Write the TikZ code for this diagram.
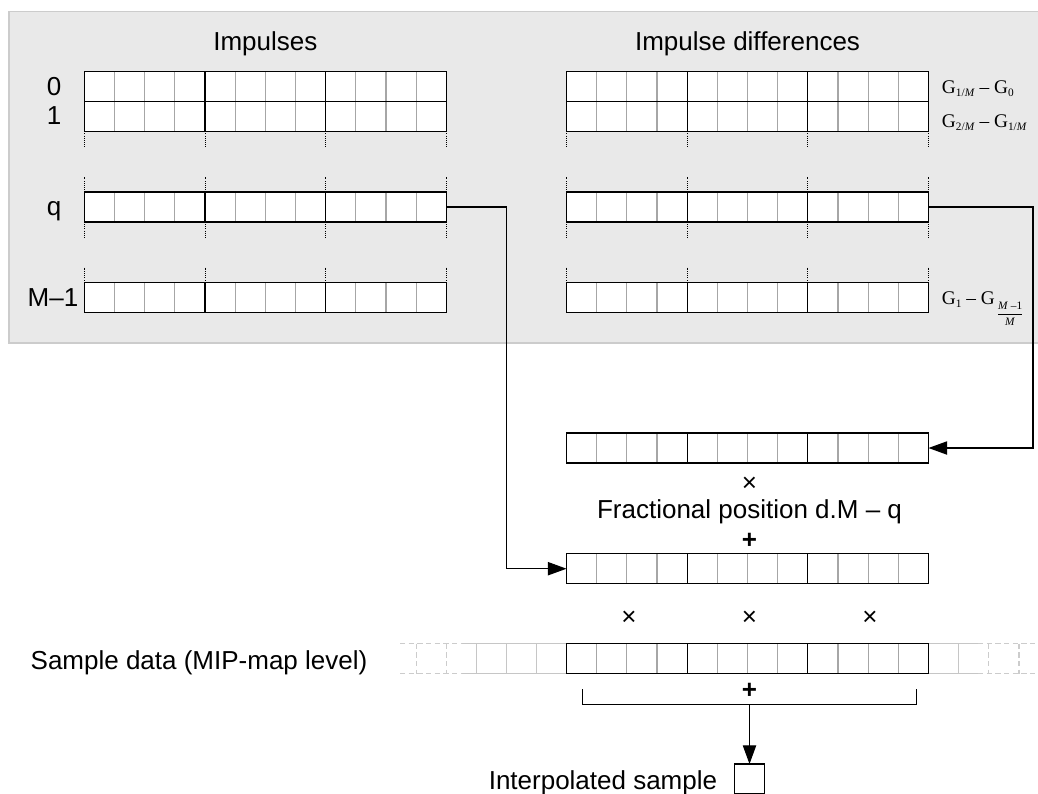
\documentclass[tikz,border=0pt]{standalone}
\usepackage{fontspec}
\setmainfont{Liberation Sans}
\newfontfamily\tnr{Liberation Serif}
\usetikzlibrary{arrows.meta,calc}
\newcommand\subf{\fontsize{8.5}{10}\selectfont}
\newcommand\lowsub[1]{\raisebox{-2.5pt}{\subf #1}}
\newcommand\cellgrid[1]{%
  \foreach \k in {1,2,3,5,6,7,9,10,11}
    \draw[grayline] ($(#1.south west)!\k/12!(#1.south east)$) -- ($(#1.north west)!\k/12!(#1.north east)$);
  \foreach \k in {4,8}
    \draw[blackline] ($(#1.south west)!\k/12!(#1.south east)$) -- ($(#1.north west)!\k/12!(#1.north east)$);
  \draw[blackline] (#1.south west) rectangle (#1.north east);}
% dotted ticks: #1 node, #2 = south (down) or north (up), #3 = +15 or -15
\newcommand\ticks[3]{%
  \foreach \k in {0,4,8,12}
    \draw[tickline] ($(#1.#2 west)!\k/12!(#1.#2 east)$) -- ++(0,#3);}
\begin{document}
\begin{tikzpicture}[x=0.75pt,y=-0.75pt,
  arr/.style={rectangle,minimum width=271.5pt,minimum height=22.5pt,inner sep=0pt,outer sep=0pt,fill=white},
  grayline/.style={draw=gray!70,line width=0.8pt},
  blackline/.style={draw=black,line width=0.9pt},
  tickline/.style={draw=black,line width=0.6pt,densely dotted},
  conn/.style={draw=black,line width=0.8pt},
  arrowed/.style={conn,-{Triangle[length=14pt,width=10pt]}},
  lbl/.style={font=\fontsize{19.5}{23}\selectfont,inner sep=0pt},
  glbl/.style={font=\tnr\fontsize{14.5}{17}\selectfont,inner sep=0pt,anchor=base west},
  extsolid/.style={draw=gray!45,line width=0.8pt},
  extdash/.style={draw=gray!40,line width=0.8pt,dash pattern=on 4pt off 2.5pt}]
\useasboundingbox (0,0) rectangle (1038,793);
% panel
\draw[draw=gray!40,line width=1.4pt,fill=gray!17] (9,11.5) rectangle (1060,343);
% titles
\node[lbl,anchor=base] (tImp) at (265.3,50) {Impulses};
\node[lbl,anchor=base] (tDif) at (747.5,50) {Impulse differences};
% left impulse arrays
\node[arr] (L0) at (265.3,86.5) {};
\node[arr] (L1) at (265.3,116.3) {};
\node[arr] (Lq) at (265.3,207) {};
\node[arr] (LM) at (265.3,297.5) {};
% right difference arrays
\node[arr] (R0) at (747.5,86.5) {};
\node[arr] (R1) at (747.5,116.3) {};
\node[arr] (Rq) at (747.5,207) {};
\node[arr] (RM) at (747.5,297.5) {};
% middle arrays
\node[arr] (mup) at (747.5,448) {};
\node[arr] (mlow) at (747.5,568.7) {};
\node[arr] (smp) at (747.5,658.7) {};
% sample row extension
\foreach \xx in {476.5,506.7,536.8,958.7}
  \draw[extsolid] (\xx,643.7) -- (\xx,673.7);
\draw[extsolid] (461,643.7) -- (smp.north west) (461,673.7) -- (smp.south west);
\draw[extsolid] (smp.north east) -- (978,643.7) (smp.south east) -- (978,673.7);
\draw[extdash] (400,643.7) -- (461,643.7) (400,673.7) -- (461,673.7);
\draw[extdash] (978,643.7) -- (1040,643.7) (978,673.7) -- (1040,673.7);
\foreach \xx in {416.2,446.3,988.8,1019}
  \draw[extdash] (\xx,643.7) -- (\xx,673.7);
% grids
\foreach \n in {L0,L1,Lq,LM,R0,R1,Rq,RM,mup,mlow,smp} {\cellgrid{\n}}
% dotted ticks
\ticks{L1}{south}{15}
\ticks{Lq}{north}{-15}
\ticks{Lq}{south}{15}
\ticks{LM}{north}{-15}
\ticks{R1}{south}{15}
\ticks{Rq}{north}{-15}
\ticks{Rq}{south}{15}
\ticks{RM}{north}{-15}
% row labels
\node[lbl,anchor=base] (n0) at (54,95) {0};
\node[lbl,anchor=base] (n1) at (54,124.8) {1};
\node[lbl,anchor=base] (nq) at (54,215.5) {q};
\node[lbl,anchor=base] (nM) at (53,306) {M–1};
% difference labels
\node[glbl] (g0) at (941.7,93.3) {G\lowsub{1/\textit{M}} – G\lowsub{0}};
\node[glbl] (g1) at (941.7,127.5) {G\lowsub{2/\textit{M}} – G\lowsub{1/\textit{M}}};
\node[glbl] (gM) at (941.7,304) {G\lowsub{1} – G\,\raisebox{-4pt}{\subf\renewcommand\arraystretch{1.15}\begin{tabular}[t]{@{}c@{}}\textit{M} –1\\\hline \textit{M}\end{tabular}}};
% connectors
\draw[arrowed] (Lq.east) -- ++(60.4,0) |- (mlow.west);
\draw[arrowed] (Rq.east) -- ++(104.5,0) |- (mup.east);
% operators
\node[lbl] (x1) at (749.5,484) {×};
\node[lbl,anchor=base] (frac) at (749.5,518.3) {Fractional position d.M – q};
\node[lbl] (p1) at (749.5,540.7) {\textbf{+}};
\node[lbl] (x2) at (629,618) {×};
\node[lbl] (x3) at (749.5,618) {×};
\node[lbl] (x4) at (870,618) {×};
\node[lbl,anchor=base] (sdl) at (199,669.3) {Sample data (MIP-map level)};
% bracket
\node[lbl] (p2) at (749.5,690.7) {\textbf{+}};
\coordinate (br) at (749.5,704.3);
\draw[conn] (582.4,689.3) |- (br) -| (916.5,689.3);
% output
\node[rectangle,draw=black,line width=0.9pt,minimum width=22.7pt,minimum height=22.5pt,inner sep=0pt,outer sep=0pt,anchor=north] (interp) at (749.5,764) {};
\draw[arrowed] (br) -- (interp.north);
\node[lbl,anchor=base east] (itxt) at (717.4,789) {Interpolated sample};
\end{tikzpicture}
\end{document}
